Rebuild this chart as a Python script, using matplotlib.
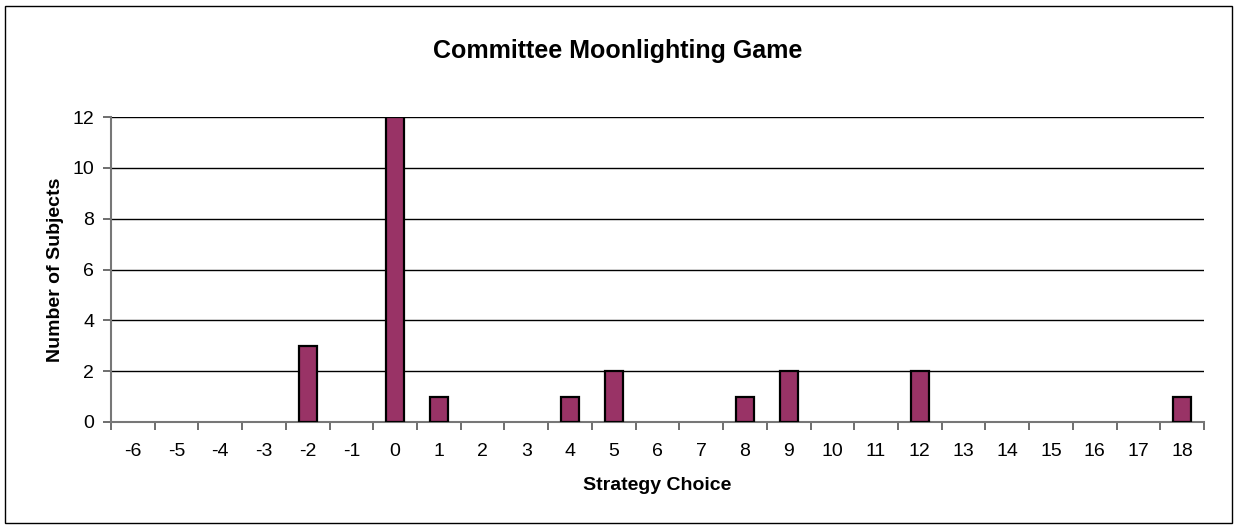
import matplotlib
matplotlib.use("Agg")
import matplotlib.pyplot as plt
from matplotlib.patches import Rectangle

plt.rcParams['font.family'] = ['Liberation Sans', 'DejaVu Sans']

categories = ["-6", "-5", "-4", "-3", "-2", "-1", "0", "1", "2", "3", "4", "5", "6",
              "7", "8", "9", "10", "11", "12", "13", "14", "15", "16", "17", "18"]
counts = [0, 0, 0, 0, 3, 0, 12, 1, 0, 0, 1, 2, 0, 0, 1, 2, 0, 0, 2, 0, 0, 0, 0, 0, 1]
yticks = [0, 2, 4, 6, 8, 10, 12]

W, H = 1235, 529
fig = plt.figure(figsize=(W / 100, H / 100), dpi=100)
fig.patches.append(Rectangle((5 / W, 1 - 523 / H), 1227 / W, 517 / H, transform=fig.transFigure,
                             fill=False, edgecolor='black', linewidth=1.0))

left, right, top, bottom = 111, 1204, 117, 422
ax = fig.add_axes([left / W, 1 - bottom / H, (right - left) / W, (bottom - top) / H])

x = list(range(len(categories)))
bx = [i for i, c in zip(x, counts) if c > 0]
bh = [c for c in counts if c > 0]
ax.bar(bx, bh, width=0.41, color='#993366', edgecolor='black', linewidth=1.6, zorder=3)

ax.set_xlim(-0.5, len(categories) - 0.5)
ax.set_ylim(0, 12)
ax.set_yticks(yticks)
ax.set_yticklabels([str(v) for v in yticks], fontsize=14)
ax.yaxis.grid(True, color='black', linewidth=1.0, zorder=0)
ax.set_axisbelow(True)

ax.set_xticks(x)
ax.set_xticklabels(categories, fontsize=14)
ax.tick_params(axis='x', length=0, pad=15)
ax.set_xticks([i - 0.5 for i in range(len(categories) + 1)], minor=True)
ax.tick_params(axis='x', which='minor', length=6, direction='out', color='#555555', width=1.2)
ax.tick_params(axis='y', length=6, direction='out', color='#555555', width=1.2, pad=6)

for s in ['top', 'right']:
    ax.spines[s].set_visible(False)
for s in ['left', 'bottom']:
    ax.spines[s].set_color('#777777')
    ax.spines[s].set_linewidth(1.5)

ax.set_xlabel('Strategy Choice', fontsize=14, fontweight='bold', labelpad=12)
ax.set_ylabel('Number of Subjects', fontsize=14, fontweight='bold', labelpad=6)
fig.text(0.5, 1 - 51 / H, 'Committee Moonlighting Game',
         fontsize=18, fontweight='bold', ha='center', va='center')

fig.savefig('out.png', dpi=100)
